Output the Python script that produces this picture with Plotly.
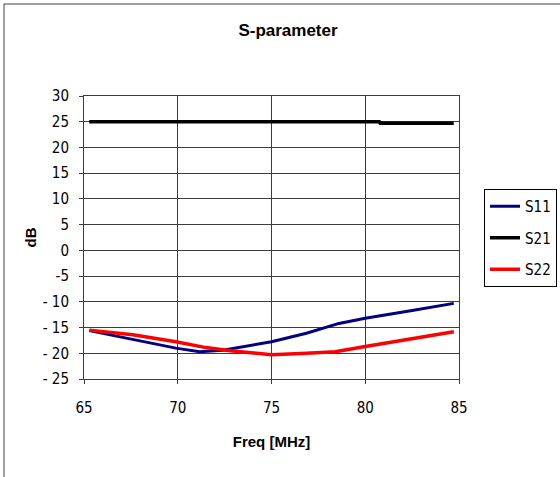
import plotly.graph_objects as go

# Data
s11_freq = [65.28, 67.6, 69.9, 71.17, 72.4, 75.0, 76.86, 78.6, 80.0, 82.5, 84.72]
s11_db = [-15.6, -17.3, -19.0, -19.7, -19.4, -17.75, -16.1, -14.2, -13.2, -11.7, -10.3]

s21_freq = [65.28, 70.0, 75.0, 80.0, 80.75, 80.8, 84.72]
s21_db = [25.0, 25.0, 25.0, 25.0, 25.0, 24.7, 24.7]

s22_freq = [65.28, 67.6, 69.9, 71.5, 72.8, 75.0, 76.86, 78.4, 80.0, 82.5, 84.72]
s22_db = [-15.5, -16.4, -17.75, -18.9, -19.5, -20.3, -20.0, -19.7, -18.7, -17.1, -15.8]

x_ticks = [65, 70, 75, 80, 85]
y_ticks = [30, 25, 20, 15, 10, 5, 0, -5, -10, -15, -20, -25]
y_tick_text = ["30", "25", "20", "15", "10", "5", "0", "-5", "- 10", "- 15", "- 20", "- 25"]

NARROW = "Liberation Sans Narrow, DejaVu Sans Condensed, Arial Narrow, Liberation Sans, sans-serif"
BOLD = "Liberation Sans, Arial, sans-serif"

fig = go.Figure()
fig.add_trace(go.Scatter(x=s11_freq, y=s11_db, mode="lines", name="S11",
                         line=dict(color="#000080", width=3), legendgroup="a"))
fig.add_trace(go.Scatter(x=s21_freq, y=s21_db, mode="lines", name="S21",
                         line=dict(color="#000000", width=3.5), legendgroup="b"))
fig.add_trace(go.Scatter(x=s22_freq, y=s22_db, mode="lines", name="S22",
                         line=dict(color="#FF0000", width=3.5), legendgroup="c"))

L, R, T, B = 84, 459, 96, 379
W, H = 560, 477
pw, ph = R - L, B - T

fig.update_layout(
    width=W, height=H,
    margin=dict(l=L, r=W - R, t=T, b=H - B, pad=0, autoexpand=False),
    paper_bgcolor="white", plot_bgcolor="white",
    title=dict(text="<b>S-parameter</b>", x=288 / W, xanchor="center",
               y=1 - 30 / H, yanchor="middle",
               font=dict(family=BOLD, size=17, color="black")),
    showlegend=True,
    legend=dict(x=(484 - L) / pw, y=(B - 189) / ph, xanchor="left", yanchor="top",
                bordercolor="black", borderwidth=1, bgcolor="white",
                font=dict(family=NARROW, size=15, color="black"),
                tracegroupgap=9, itemwidth=30),
    xaxis=dict(range=[65, 85], tickmode="array", tickvals=x_ticks,
               showgrid=True, gridcolor="#3c3c3c", gridwidth=1,
               showline=True, linecolor="#3c3c3c", linewidth=1, mirror=True,
               ticks="outside", ticklen=4, tickcolor="#3c3c3c",
               ticklabelstandoff=11,
               tickfont=dict(family=NARROW, size=15, color="black"),
               zeroline=False,
               title=dict(text="<b>Freq [MHz]</b>", standoff=20,
                          font=dict(family=BOLD, size=15, color="black"))),
    yaxis=dict(range=[-25, 30], tickmode="array", tickvals=y_ticks, ticktext=y_tick_text,
               showgrid=True, gridcolor="#3c3c3c", gridwidth=1,
               showline=True, linecolor="#3c3c3c", linewidth=1, mirror=True,
               ticks="outside", ticklen=4, tickcolor="#3c3c3c",
               ticklabelstandoff=7,
               tickfont=dict(family=NARROW, size=15, color="black"),
               zeroline=False,
               title=dict(text="<b>dB</b>", standoff=2,
                          font=dict(family=BOLD, size=15, color="black"))),
    shapes=[dict(type="rect", xref="paper", yref="paper",
                 x0=(4 - L) / pw, x1=(W + 20 - L) / pw,
                 y0=(B - (H + 20)) / ph, y1=(B - 4) / ph,
                 line=dict(color="#404040", width=1), fillcolor="rgba(0,0,0,0)",
                 layer="below")],
)

fig.write_html("out.html", config={"displayModeBar": False},
               post_script="document.body.style.margin='0';document.body.style.overflow='hidden';")
